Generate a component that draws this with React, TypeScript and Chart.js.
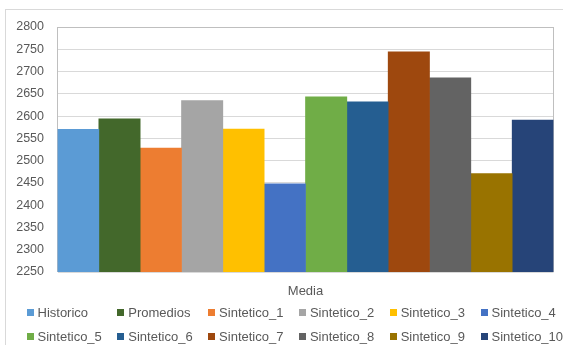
import { useEffect, useRef } from "react";
import { Chart, registerables } from "chart.js";

Chart.register(...registerables);

const categories = ["Media"];
const seriesNames = [
  "Historico",
  "Promedios",
  "Sintetico_1",
  "Sintetico_2",
  "Sintetico_3",
  "Sintetico_4",
  "Sintetico_5",
  "Sintetico_6",
  "Sintetico_7",
  "Sintetico_8",
  "Sintetico_9",
  "Sintetico_10",
];
const seriesValues = [2570, 2594, 2528, 2635, 2571, 2448, 2643, 2632, 2744, 2686, 2471, 2591];
const seriesColors = [
  "#5B9BD5",
  "#43682B",
  "#ED7D31",
  "#A5A5A5",
  "#FFC000",
  "#4472C4",
  "#70AD47",
  "#255E91",
  "#9E480E",
  "#636363",
  "#997300",
  "#264478",
];
const yMin = 2250;
const yMax = 2800;
const yStep = 50;

const FONT = "'Liberation Sans', Arial, sans-serif";
const TEXT_COLOR = "#595959";

const framePlugin = {
  id: "frame",
  beforeDraw(chart: any) {
    const ctx = chart.ctx;
    ctx.save();
    ctx.fillStyle = "#FFFFFF";
    ctx.fillRect(0, 0, chart.width, chart.height);
    ctx.strokeStyle = "#D9D9D9";
    ctx.lineWidth = 1;
    ctx.strokeRect(5.5, 9.5, 700, 500);
    ctx.restore();
  },
  beforeDatasetsDraw(chart: any) {
    const { ctx, chartArea } = chart;
    ctx.save();
    ctx.strokeStyle = "#BFBFBF";
    ctx.lineWidth = 1;
    ctx.strokeRect(
      Math.round(chartArea.left) - 0.5,
      Math.round(chartArea.top) + 0.5,
      Math.round(chartArea.right - chartArea.left) + 0,
      Math.round(chartArea.bottom - chartArea.top) - 1
    );
    ctx.restore();
  },
  afterDraw(chart: any) {
    const ctx = chart.ctx;
    ctx.save();
    ctx.font = `13px ${FONT}`;
    ctx.textBaseline = "middle";
    ctx.textAlign = "left";
    chart.data.datasets.forEach((ds: any, i: number) => {
      const row = Math.floor(i / 6);
      const col = i % 6;
      const x = 26.5 + col * 90.8;
      const y = 312.5 + row * 24;
      ctx.fillStyle = ds.backgroundColor;
      ctx.fillRect(Math.round(x), Math.round(y - 3.5), 7, 7);
      ctx.fillStyle = TEXT_COLOR;
      ctx.fillText(ds.label, x + 11, y + 0.5);
    });
    ctx.restore();
  },
};

export default function App() {
  const canvasRef = useRef<HTMLCanvasElement | null>(null);

  useEffect(() => {
    if (!canvasRef.current) return;
    const chart = new Chart(canvasRef.current, {
      type: "bar",
      data: {
        labels: categories,
        datasets: seriesNames.map((name, i) => ({
          label: name,
          data: [seriesValues[i]],
          backgroundColor: seriesColors[i],
          borderWidth: 0,
          categoryPercentage: 1,
          barPercentage: 1,
        })),
      },
      options: {
        animation: false,
        responsive: false,
        maintainAspectRatio: false,
        devicePixelRatio: 1,
        layout: { padding: { top: 27, right: 9.5, bottom: 45, left: 0 } },
        plugins: {
          legend: { display: false },
          tooltip: { enabled: false },
          title: { display: false },
        },
        scales: {
          x: {
            grid: { display: false, drawTicks: false },
            border: { display: false },
            ticks: {
              color: TEXT_COLOR,
              font: { family: FONT, size: 13 },
              padding: 12,
            },
            afterFit(scale: any) {
              scale.height = 28;
            },
          },
          y: {
            min: yMin,
            max: yMax,
            grid: { color: "#D9D9D9", lineWidth: 1, drawTicks: false },
            border: { display: false },
            ticks: {
              stepSize: yStep,
              color: TEXT_COLOR,
              font: { family: FONT, size: 12.5 },
              padding: 13.5,
              callback: (v: any) => String(v),
            },
            afterFit(scale: any) {
              scale.width = 57.5;
            },
          },
        },
      },
      plugins: [framePlugin],
    });
    return () => chart.destroy();
  }, []);

  return (
    <div style={{ position: "fixed", left: 0, top: 0, width: 563, height: 345, overflow: "hidden", background: "#fff" }}>
      <canvas ref={canvasRef} width={563} height={345} style={{ display: "block", width: 563, height: 345 }} />
    </div>
  );
}
